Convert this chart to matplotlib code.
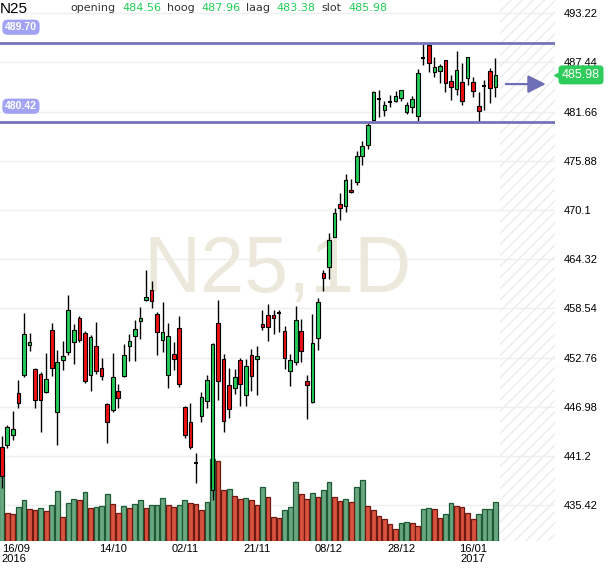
import numpy as np
import matplotlib
matplotlib.use("Agg")
import matplotlib.pyplot as plt
from matplotlib.transforms import blended_transform_factory

# daily candles N25, 90 sessions
opens = [442.21, 442.52, 443.71, 448.60, 450.69, 454.28, 451.44, 450.85, 448.72, 456.05,
         446.35, 452.50, 453.45, 454.63, 457.47, 455.70, 450.73, 454.16, 451.56, 447.30,
         446.63, 448.84, 450.57, 454.16, 455.35, 457.08, 459.57, 460.71, 457.87, 454.87,
         450.69, 453.21, 456.29, 446.94, 445.17, 440.40, 445.88, 447.65, 437.16, 456.80,
         452.62, 449.58, 449.19, 452.43, 448.36, 453.10, 452.60, 456.70, 457.76, 457.76,
         457.99, 455.88, 451.19, 452.25, 455.88, 450.06, 447.52, 455.02, 462.68, 463.38,
         466.98, 470.76, 470.61, 472.40, 473.42, 476.50, 477.72, 480.65, 483.13, 481.81,
         482.85, 482.93, 483.32, 481.58, 482.20, 481.12, 487.96, 489.51, 486.37, 486.49,
         487.69, 485.25, 484.29, 485.14, 485.56, 485.14, 482.31, 484.67, 486.49, 484.56]
highs = [443.59, 444.80, 446.51, 450.18, 457.99, 455.62, 451.56, 451.08, 453.33, 456.80,
         453.65, 454.75, 460.12, 456.69, 457.59, 455.90, 455.42, 457.00, 452.74, 447.40,
         453.33, 449.66, 454.40, 455.58, 457.20, 458.66, 463.00, 461.80, 458.15, 459.25,
         456.88, 454.60, 457.59, 447.02, 447.42, 441.58, 448.68, 450.77, 454.50, 459.57,
         453.13, 451.56, 451.44, 452.74, 452.54, 453.73, 454.08, 458.34, 459.08, 458.38,
         458.30, 456.43, 453.23, 458.77, 457.29, 450.72, 457.87, 459.71, 463.07, 467.37,
         470.37, 472.13, 474.28, 473.77, 477.05, 478.23, 480.40, 484.09, 484.21, 482.93,
         483.59, 484.09, 484.21, 482.74, 483.55, 486.72, 489.62, 489.70, 488.08, 487.23,
         487.77, 485.99, 488.77, 487.38, 488.08, 485.76, 484.02, 485.37, 486.80, 487.96]
lows = [437.47, 442.17, 443.12, 446.78, 450.45, 453.53, 446.78, 444.06, 448.60, 450.57,
        442.52, 451.36, 453.06, 452.03, 454.63, 449.78, 448.80, 450.85, 450.10, 442.68,
        446.31, 446.78, 450.49, 452.35, 452.35, 454.99, 459.37, 458.54, 453.06, 453.41,
        449.19, 451.36, 449.27, 443.35, 442.00, 438.03, 445.25, 446.82, 436.00, 447.73,
        444.06, 445.72, 448.52, 447.10, 447.10, 448.84, 448.34, 455.96, 454.67, 455.53,
        455.76, 451.43, 449.40, 451.94, 452.25, 445.57, 447.44, 453.66, 460.61, 461.94,
        466.90, 468.93, 469.90, 472.05, 473.03, 475.41, 477.30, 480.54, 481.04, 481.12,
        482.20, 482.74, 482.86, 481.42, 481.54, 480.57, 487.11, 486.34, 485.68, 484.98,
        483.94, 483.01, 483.63, 482.43, 484.75, 483.44, 480.42, 481.81, 482.66, 483.38]
closes = [438.86, 444.61, 444.38, 447.42, 455.50, 454.56, 447.77, 447.77, 450.26, 451.56,
          452.27, 452.98, 458.30, 456.05, 454.87, 450.02, 455.23, 451.20, 450.61, 445.17,
          450.49, 448.01, 453.10, 454.67, 456.09, 457.47, 459.84, 459.37, 455.82, 455.74,
          455.35, 452.62, 449.66, 443.63, 442.21, 440.40, 448.13, 450.14, 454.40, 449.98,
          445.29, 446.74, 450.49, 449.66, 451.75, 450.61, 452.95, 456.35, 456.35, 457.41,
          457.99, 452.72, 452.52, 457.17, 453.54, 449.55, 454.48, 459.28, 462.09, 466.55,
          469.71, 470.30, 473.58, 472.17, 476.43, 477.60, 480.10, 483.98, 483.13, 482.43,
          482.85, 483.47, 484.17, 482.43, 483.13, 486.26, 487.96, 487.42, 486.88, 487.00,
          484.98, 484.60, 486.53, 482.97, 488.04, 484.05, 481.73, 484.67, 484.48, 485.98]
volumes = [234, 83, 82, 101, 122, 95, 94, 98, 89, 107,
           149, 71, 113, 125, 124, 146, 98, 101, 104, 140,
           110, 83, 104, 98, 110, 122, 98, 107, 108, 128,
           107, 101, 107, 122, 113, 110, 92, 116, 245, 239,
           152, 155, 134, 125, 128, 122, 107, 161, 131, 71,
           70, 92, 101, 176, 140, 125, 143, 131, 152, 176,
           131, 119, 125, 116, 161, 182, 104, 92, 74, 65,
           50, 35, 53, 56, 53, 44, 95, 98, 95, 68,
           80, 113, 104, 101, 83, 65, 80, 95, 96, 116]

date_pos = [0, 20, 33, 46, 59, 72, 85]
date_labels = ["16/09\n2016", "14/10", "02/11", "21/11", "08/12", "28/12", "16/01\n2017"]
price_ticks = [493.22, 487.44, 481.66, 475.88, 470.1, 464.32, 458.54, 452.76, 446.98, 441.2, 435.42]
levels = [489.70, 480.42]

W, H = 610, 568
fig = plt.figure(figsize=(W / 100, H / 100), dpi=100)
ax = fig.add_axes([0, 27 / H, 555 / W, 541 / H])
axv = ax.twinx()
ax.set_zorder(axv.get_zorder() + 1)
ax.patch.set_visible(False)

x = np.arange(len(opens))
o = np.array(opens); h = np.array(highs); l = np.array(lows); c = np.array(closes)
vol = np.array(volumes)

xmin, xmax = -0.32, 99.75
pmin, pmax = 431.21, 494.78
vmax = 1623
ax.set_xlim(xmin, xmax)
ax.set_ylim(pmin, pmax)

# volume, coloured by change vs previous day
vup = np.r_[True, np.diff(vol) > 0]
axv.bar(x[vup], vol[vup], width=0.86, color="#6aa882", edgecolor="#1d5a35", linewidth=0.9, zorder=2)
axv.bar(x[~vup], vol[~vup], width=0.86, color="#d9533f", edgecolor="#6e1a12", linewidth=0.9, zorder=2)
axv.set_ylim(0, vmax)
plt.rcParams["hatch.linewidth"] = 1.0
axv.axvspan(89.83, xmax, facecolor="white", edgecolor="#ececec", hatch="///", linewidth=0, zorder=0)

# grid sits under the volume bars: price ticks mapped onto the volume scale
grid_v = [(p - pmin) / (pmax - pmin) * vmax for p in price_ticks]
axv.set_yticks(grid_v)
axv.tick_params(axis="y", length=0, labelright=False)
axv.set_axisbelow(True)
axv.grid(True, color="#efefef", linewidth=1, zorder=1)
for s in axv.spines.values():
    s.set_visible(False)

# watermark
ax.text(0.5, 0.46, "N25,1D", transform=ax.transAxes, ha="center", va="baseline",
        fontsize=57, color="#ece8dc", family="Liberation Sans", zorder=0)

# candles
ax.vlines(x, l, h, color="black", linewidth=1, zorder=2)
up = c > o + 0.04
dn = c < o - 0.04
dj = ~(up | dn)
ax.bar(x[up], (c - o)[up], bottom=o[up], width=0.66, color="#22cc55", edgecolor="black", linewidth=0.8, zorder=3)
ax.bar(x[dn], (o - c)[dn], bottom=c[dn], width=0.66, color="#ee1111", edgecolor="black", linewidth=0.8, zorder=3)
ax.hlines(o[dj], x[dj] - 0.35, x[dj] + 0.35, color="black", linewidth=1.5, zorder=3)

# support / resistance lines and their labels
for lv in levels:
    ax.axhline(lv, color="#7474bc", linewidth=2, zorder=4)
    ax.annotate("%.2f" % lv, xy=(0, lv), xycoords=("axes fraction", "data"),
                xytext=(5, 16), textcoords="offset pixels", ha="left", va="center",
                fontsize=7.5, fontweight="bold", color="white", family="Liberation Sans",
                bbox=dict(boxstyle="round,pad=0.25,rounding_size=0.5", fc="#a3a3f3", ec="none"))

# arrow and last price tag
last = closes[-1]
ax.annotate("", xy=(98.1, 484.9), xytext=(90.9, 484.9),
            arrowprops=dict(arrowstyle="-|>,head_length=0.72,head_width=0.36",
                            color="#6f6fb8", lw=1.6, mutation_scale=15, shrinkA=0, shrinkB=0))
ax.annotate("%.2f" % last, xy=(1, last), xycoords=("axes fraction", "data"),
            xytext=(7, 0), textcoords="offset pixels", ha="left", va="center",
            fontsize=9, color="white", family="Liberation Sans", annotation_clip=False,
            bbox=dict(boxstyle="round,pad=0.28,rounding_size=0.3", fc="#2ecc5a", ec="none"))
tr = blended_transform_factory(ax.transAxes, ax.transData)
ax.plot([1.003], [last], marker="<", markersize=5, color="#2ecc5a", transform=tr, clip_on=False, zorder=6)

# axes
ax.yaxis.tick_right()
ax.set_yticks(price_ticks)
ax.set_yticklabels([("%.2f" % p)[:-1] if ("%.2f" % p).endswith("0") else "%.2f" % p for p in price_ticks],
                   fontsize=8, family="Liberation Sans")
ax.tick_params(axis="y", length=0, pad=6)
ax.set_xticks(date_pos)
ax.set_xticklabels(date_labels, fontsize=8, family="Liberation Sans", linespacing=1.0)
ax.tick_params(axis="x", length=0, pad=2)
ax.get_xticklabels()[0].set_ha("left")
ax.grid(False)
axv.set_xticks(date_pos)
axv.grid(True, axis="x", color="#efefef", linewidth=1)
for s in ax.spines.values():
    s.set_visible(False)

# header
fig.text(0 / W, 1 - 12.7 / H, "N25", fontsize=11, family="Liberation Sans", va="baseline")
head = [("opening", 70, "#333333"), ("484.56", 122, "#22cc55"),
        ("hoog", 167, "#333333"), ("487.96", 201, "#22cc55"),
        ("laag", 246, "#333333"), ("483.38", 276, "#22cc55"),
        ("slot", 321, "#333333"), ("485.98", 348, "#22cc55")]
for txt, px, col in head:
    fig.text(px / W, 1 - 10.7 / H, txt, fontsize=8, color=col, family="DejaVu Sans", va="baseline")

fig.savefig("out.png", dpi=100)
